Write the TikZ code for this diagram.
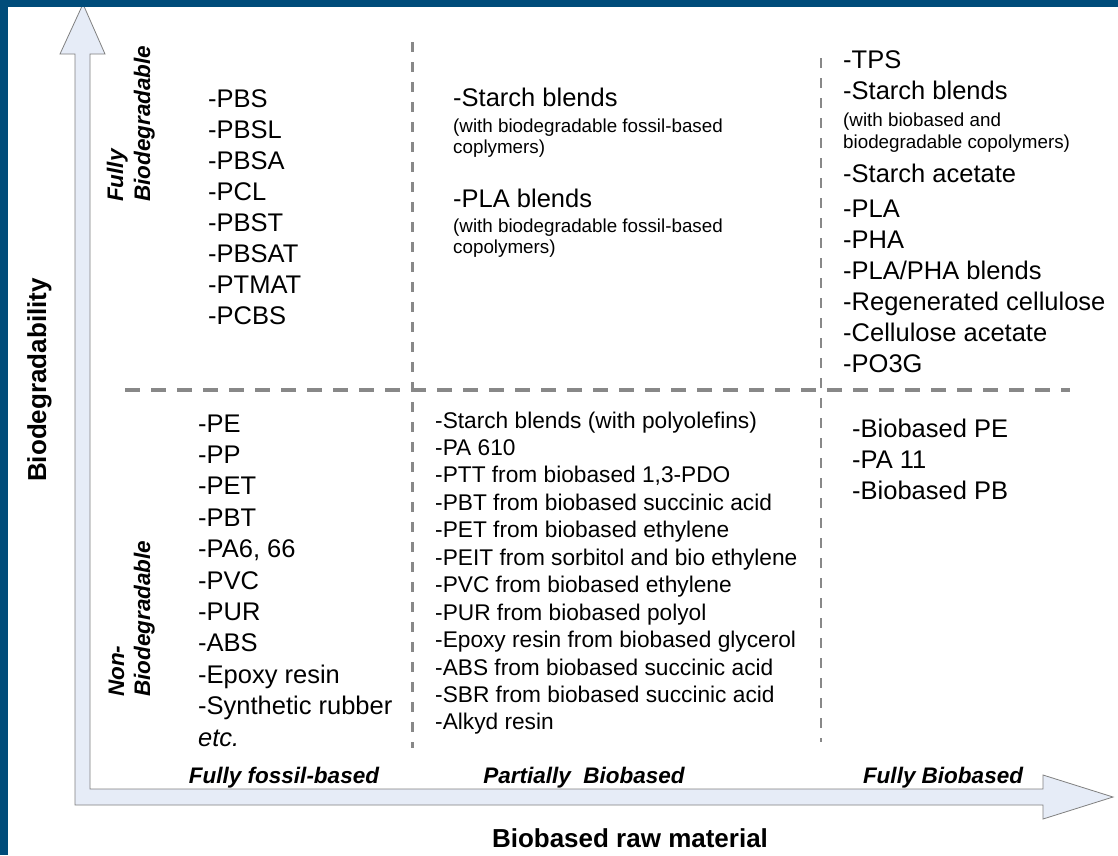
\documentclass[tikz,border=0pt]{standalone}
\usepackage{fontspec}
\setmainfont{Liberation Sans}
\definecolor{frameblue}{RGB}{0,76,122}
\definecolor{arrowfill}{RGB}{230,236,247}
\definecolor{arrowline}{RGB}{128,128,128}
\definecolor{dashgray}{RGB}{136,136,136}
\tikzset{
  big/.style={font=\fontsize{25.5}{31}\selectfont, inner sep=0pt, anchor=base west},
  mid/.style={font=\fontsize{22.7}{27}\selectfont, inner sep=0pt, anchor=base west},
  small/.style={font=\fontsize{18.8}{22}\selectfont, inner sep=0pt, anchor=base west},
  axislab/.style={font=\fontsize{22.5}{27}\selectfont\bfseries\itshape, inner sep=0pt, anchor=base},
  rotlab/.style={font=\fontsize{22.5}{27}\selectfont\bfseries\itshape, inner sep=0pt, anchor=base west, rotate=90},
  titlelab/.style={font=\fontsize{26}{31}\selectfont\bfseries, inner sep=0pt, anchor=base},
  divider/.style={draw=dashgray, line width=3.2pt, dash pattern=on 15pt off 11pt},
  vdivider/.style={draw=dashgray, line width=3pt, dash pattern=on 10pt off 10pt},
}
\begin{document}
\begin{tikzpicture}[x=1pt,y=-1pt]
\fill[white] (0,0) rectangle (1118,855);
\useasboundingbox (0,0) rectangle (1118,855);

% axes arrows
\draw[arrowline, fill=arrowfill, line width=0.8pt]
  (75,805) -- (75,54) -- (60,54) -- (83,4) -- (105,54) -- (90,54) -- (90,789)
  -- (1043,789) -- (1043,775) -- (1113,797) -- (1043,819) -- (1043,805) -- cycle;

% frame
\fill[frameblue] (0,0) rectangle (1118,7);
\fill[frameblue] (0,0) rectangle (8,855);

% dividers
\draw[divider] (125,390) -- (1070,390);
\draw[vdivider] (412,42) -- (412,748);
\draw[vdivider, line width=2.6pt] (821,58) -- (821,742);

% axis titles
\node[titlelab] (ytitle) at (46,380) [rotate=90] {Biodegradability};
\node[titlelab] (xtitle) at (630,847) {Biobased raw material};

% row labels
\node[rotlab] (fully1) at (123,202) {Fully};
\node[rotlab] (fully2) at (150,202) {Biodegradable};
\node[rotlab] (non1) at (124,697) {Non-};
\node[rotlab] (non2) at (150,697) {Biodegradable};

% column labels
\node[axislab] (col1) at (284,783) {Fully fossil-based};
\node[axislab] (col2) at (584,783) {Partially\ \ Biobased};
\node[axislab] (col3) at (943,783) {Fully Biobased};

% upper left
\foreach \t [count=\i] in {-PBS,-PBSL,-PBSA,-PCL,-PBST,-PBSAT,-PTMAT,-PCBS}
  \node[big] (ul\i) at (208,{107+31*(\i-1)}) {\t};

% lower left
\foreach \t [count=\i] in {-PE,-PP,-PET,-PBT,{-PA6, 66},-PVC,-PUR,-ABS,-Epoxy resin,-Synthetic rubber}
  \node[big] (ll\i) at (198,{432+31.4*(\i-1)}) {\t};
\node[big, font=\fontsize{25.5}{31}\selectfont\itshape] (lletc) at (198,746) {etc.};

% upper middle
\node[big] (um1) at (453,106) {-Starch blends};
\node[small] (um2) at (453,132) {(with biodegradable fossil-based};
\node[small] (um3) at (453,153) {coplymers)};
\node[big] (um4) at (453,207) {-PLA blends};
\node[small] (um5) at (453,232) {(with biodegradable fossil-based};
\node[small] (um6) at (453,253) {copolymers)};

% lower middle
\foreach \t [count=\i] in {-Starch blends (with polyolefins),-PA 610,{-PTT from biobased 1,3-PDO},-PBT from biobased succinic acid,-PET from biobased ethylene,-PEIT from sorbitol and bio ethylene,-PVC from biobased ethylene,-PUR from biobased polyol,-Epoxy resin from biobased glycerol,-ABS from biobased succinic acid,-SBR from biobased succinic acid,-Alkyd resin}
  \node[mid] (lm\i) at (435,{428+27.45*(\i-1)}) {\t};

% upper right
\node[big] (ur1) at (843,68) {-TPS};
\node[big] (ur2) at (843,99) {-Starch blends};
\node[small] (ur3) at (843,126) {(with biobased and};
\node[small] (ur4) at (843,148) {biodegradable copolymers)};
\node[big] (ur5) at (843,182) {-Starch acetate};
\foreach \t [count=\i] in {-PLA,-PHA,-PLA/PHA blends,-Regenerated cellulose,-Cellulose acetate,-PO3G}
  \node[big] (urb\i) at (843,{217+31*(\i-1)}) {\t};

% lower right
\foreach \t [count=\i] in {-Biobased PE,-PA 11,-Biobased PB}
  \node[big] (lr\i) at (852,{437+31*(\i-1)}) {\t};
\end{tikzpicture}
\end{document}
